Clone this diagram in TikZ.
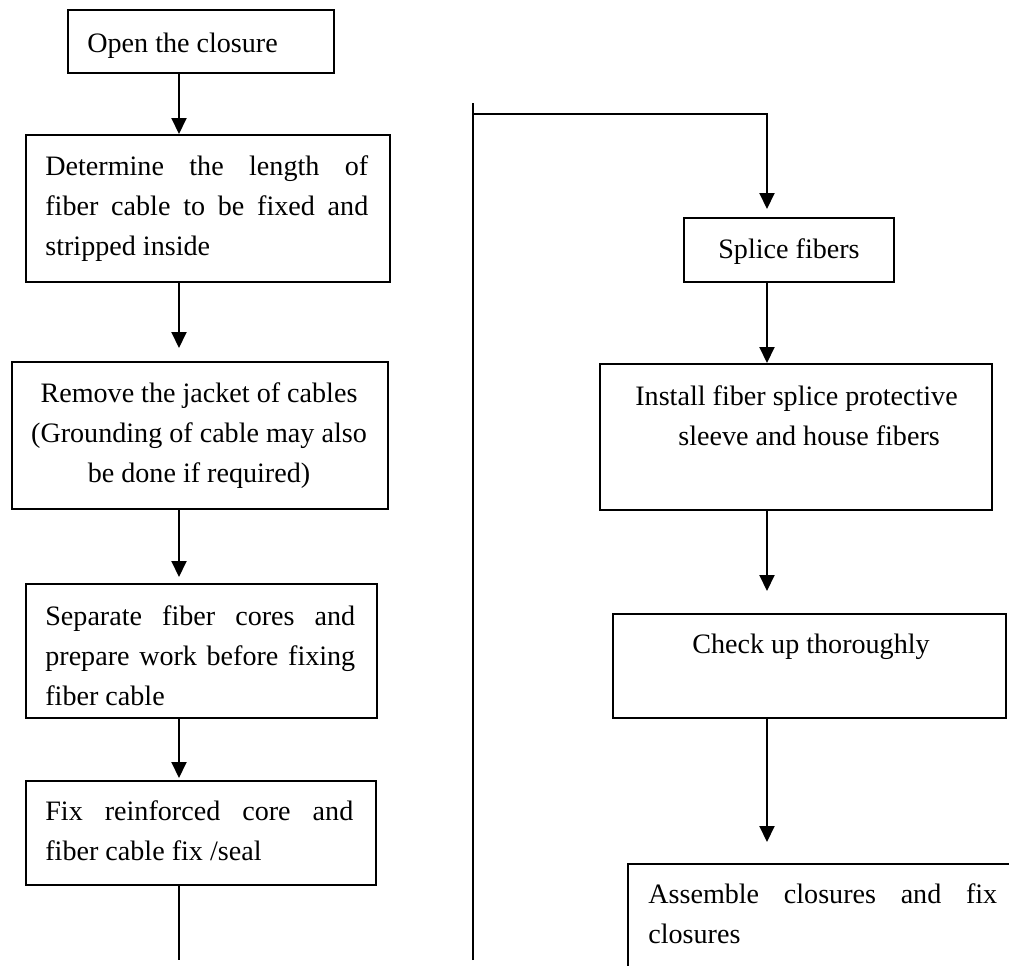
\documentclass[tikz,border=0pt]{standalone}
\usepackage{fontspec}
\setmainfont{Liberation Serif}
\usetikzlibrary{arrows.meta}
\hyphenpenalty=10000
\exhyphenpenalty=10000
% one justified line of a box
\newcommand{\jline}[1]{\makebox[\hsize][s]{#1}}

\begin{document}
\begin{tikzpicture}[
  x=0.02cm, y=-0.02cm,
  frame/.style={draw, rectangle, line width=1.1pt, inner sep=0pt, anchor=north west},
  txt/.style={inner sep=0pt, font=\fontsize{16}{23}\selectfont},
  arrow/.style={-{Triangle[length=0.32cm, width=0.3cm]}, line width=1.1pt},
  link/.style={line width=1.1pt}
]
\useasboundingbox (0,0) rectangle (1009,965);
\clip (0,0) rectangle (1009,965);

% Left column
\node[frame, minimum width=5.32cm, minimum height=1.26cm] (open) at (67,9) {};
\node[frame, minimum width=7.28cm, minimum height=2.94cm] (determine) at (25,134) {};
\node[frame, minimum width=7.52cm, minimum height=2.94cm] (remove) at (11,361) {};
\node[frame, minimum width=7.02cm, minimum height=2.68cm] (separate) at (25,583) {};
\node[frame, minimum width=7.00cm, minimum height=2.08cm] (fixcore) at (25,780) {};

\node[txt, anchor=base west] (opentxt) at (87,52) {Open the closure};
\node[txt, anchor=base west, text width=6.46cm, align=flush left] (determinetxt) at (45,175)
  {\jline{Determine the length of}\\\jline{fiber cable to be fixed and}\\stripped inside};
\node[txt, anchor=base, text width=7.2cm, align=flush center] (removetxt) at (199,402)
  {Remove the jacket of cables\\(Grounding of cable may also\\be done if required)};
\node[txt, anchor=base west, text width=6.2cm, align=flush left] (separatetxt) at (45,625)
  {\jline{Separate fiber cores and}\\\jline{prepare work before fixing}\\fiber cable};
\node[txt, anchor=base west, text width=6.16cm, align=flush left] (fixcoretxt) at (45,820)
  {\jline{Fix reinforced core and}\\fiber cable fix /seal};

% Right column
\node[frame, minimum width=4.20cm, minimum height=1.28cm] (splice) at (683,217) {};
\node[frame, minimum width=7.84cm, minimum height=2.92cm] (install) at (599,363) {};
\node[frame, minimum width=7.86cm, minimum height=2.08cm] (check) at (612,613) {};
\node[frame, minimum width=8.40cm, minimum height=2.80cm] (assemble) at (627,863) {};

\node[txt, anchor=base west] (splicetxt) at (718,258) {Splice fibers};
\node[txt, anchor=base west, text width=7cm, align=flush left] (installtxt) at (635,405)
  {Install fiber splice protective\\\hspace*{0.86cm}sleeve and house fibers};
\node[txt, anchor=base west] (checktxt) at (692,653) {Check up thoroughly};
\node[txt, anchor=base west, text width=6.98cm, align=flush left] (assembletxt) at (648,903)
  {\jline{Assemble closures and fix}\\closures};

% Lanes and joints
\coordinate (leftlane) at (179,0);
\coordinate (rightlane) at (767,0);
\coordinate (lefttail) at (179,960);
\coordinate (midtop) at (473,103);
\coordinate (midbot) at (473,960);
\coordinate (bend) at (767,114);

% Arrows
\draw[arrow] (open.south -| leftlane) -- (determine.north -| leftlane);
\draw[arrow, shorten >=0.26cm] (determine.south -| leftlane) -- (remove.north -| leftlane);
\draw[arrow, shorten >=0.12cm] (remove.south -| leftlane) -- (separate.north -| leftlane);
\draw[arrow, shorten >=0.04cm] (separate.south -| leftlane) -- (fixcore.north -| leftlane);
\draw[link] (fixcore.south -| leftlane) -- (lefttail);
\draw[link] (midbot) -- (midtop);
\draw[arrow, shorten >=0.16cm] (midtop |- bend) -- (bend) -- (splice.north -| bend);
\draw[arrow] (splice.south -| rightlane) -- (install.north -| rightlane);
\draw[arrow, shorten >=0.44cm] (install.south -| rightlane) -- (check.north -| rightlane);
\draw[arrow, shorten >=0.42cm] (check.south -| rightlane) -- (assemble.north -| rightlane);
\end{tikzpicture}
\end{document}
